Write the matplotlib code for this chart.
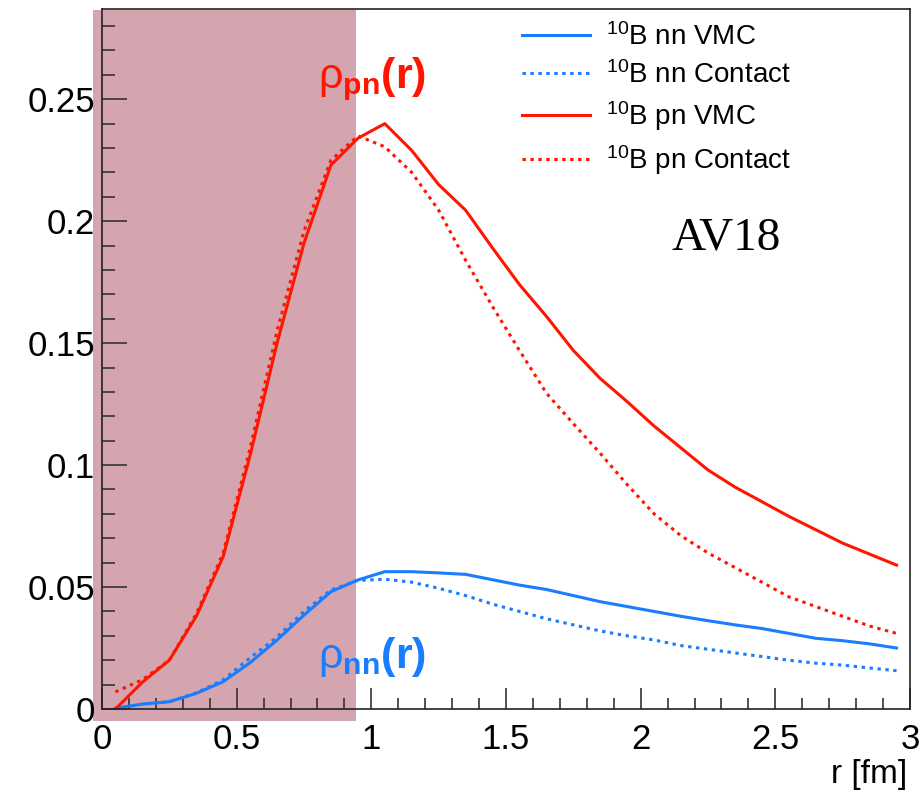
import matplotlib
matplotlib.use("Agg")
import matplotlib.pyplot as plt
from matplotlib.patches import Rectangle
from matplotlib.ticker import MultipleLocator

plt.rcParams['font.family'] = ['Liberation Sans', 'DejaVu Sans']
plt.rcParams['mathtext.fontset'] = 'custom'
plt.rcParams['mathtext.rm'] = 'Liberation Sans'
plt.rcParams['mathtext.bf'] = 'Liberation Sans:bold'
plt.rcParams['mathtext.it'] = 'Liberation Sans:italic'

# r bins (fm)
r = [0.05, 0.15, 0.25, 0.35, 0.45, 0.55, 0.65, 0.75, 0.85, 0.95,
     1.05, 1.15, 1.25, 1.35, 1.45, 1.55, 1.65, 1.75, 1.85, 1.95,
     2.05, 2.15, 2.25, 2.35, 2.45, 2.55, 2.65, 2.75, 2.85, 2.95]

pn_vmc = [0.0, 0.011, 0.020, 0.038, 0.0625, 0.104, 0.150, 0.191, 0.223, 0.234,
          0.240, 0.229, 0.215, 0.2045, 0.189, 0.174, 0.161, 0.147, 0.1355, 0.126,
          0.116, 0.107, 0.098, 0.091, 0.085, 0.079, 0.0735, 0.068, 0.0635, 0.059]
pn_contact = [0.007, 0.012, 0.020, 0.039, 0.064, 0.107, 0.155, 0.196, 0.225, 0.235,
              0.2305, 0.220, 0.2045, 0.184, 0.165, 0.147, 0.1295, 0.117, 0.1048, 0.092,
              0.080, 0.071, 0.064, 0.058, 0.052, 0.046, 0.042, 0.038, 0.034, 0.031]
nn_vmc = [0.0003, 0.002, 0.003, 0.0064, 0.0112, 0.019, 0.0283, 0.0385, 0.0481, 0.0529,
          0.0563, 0.0563, 0.0558, 0.0552, 0.053, 0.0508, 0.049, 0.0465, 0.044, 0.042,
          0.040, 0.038, 0.0362, 0.0345, 0.033, 0.031, 0.029, 0.028, 0.0267, 0.025]
nn_contact = [0.0003, 0.002, 0.003, 0.0066, 0.012, 0.021, 0.0295, 0.040, 0.0488, 0.0527,
              0.0532, 0.052, 0.0495, 0.0465, 0.043, 0.040, 0.037, 0.0345, 0.032, 0.030,
              0.0283, 0.026, 0.0245, 0.023, 0.0215, 0.020, 0.0188, 0.018, 0.0168, 0.0157]

labels = [r'$^{10}$B nn VMC', r'$^{10}$B nn Contact', r'$^{10}$B pn VMC', r'$^{10}$B pn Contact']

blue = '#1a7cff'
red = '#ff1500'
dots = (0, (1.1, 1.5))

fig = plt.figure(figsize=(9.23, 7.96), dpi=100)
ax = fig.add_axes([102/923, 1-709/796, 808/923, 700/796])

# shaded region
ax.add_patch(Rectangle((-0.033, -0.005), 0.977, 0.2915, facecolor='#d4a5ae',
                       edgecolor='none', clip_on=False, zorder=1))

ax.plot(r, nn_vmc, color=blue, lw=2.2, label=labels[0], zorder=3)
ax.plot(r, nn_contact, color=blue, lw=2.2, ls=dots, label=labels[1], zorder=3)
ax.plot(r, pn_vmc, color=red, lw=2.2, label=labels[2], zorder=3)
ax.plot(r, pn_contact, color=red, lw=2.2, ls=dots, label=labels[3], zorder=3)

ax.set_xlim(0, 3)
ax.set_ylim(0, 0.287)
ax.xaxis.set_minor_locator(MultipleLocator(0.1))
ax.yaxis.set_minor_locator(MultipleLocator(0.01))
ax.set_xticks([0, 0.5, 1, 1.5, 2, 2.5, 3])
ax.set_xticklabels(['0', '0.5', '1', '1.5', '2', '2.5', '3'])
ax.set_yticks([0, 0.05, 0.1, 0.15, 0.2, 0.25])
ax.set_yticklabels(['0', '0.05', '0.1', '0.15', '0.2', '0.25'])
ax.tick_params(axis='both', which='both', direction='in', color='#333333', labelsize=25)
ax.tick_params(axis='y', which='major', length=18, width=1.2, pad=5)
ax.tick_params(axis='y', which='minor', length=9.5, width=1.2)
ax.tick_params(axis='x', which='major', length=15, width=1.2, pad=10)
ax.tick_params(axis='x', which='minor', length=8, width=1.2)
for s in ax.spines.values():
    s.set_linewidth(1.2)
    s.set_color('#222222')
    s.set_zorder(4)

fig.text(907/923, 1-783/796, 'r [fm]', ha='right', va='baseline', fontsize=24)

ax.legend(loc='upper left', bbox_to_anchor=(522/923, 1-23/796), bbox_transform=fig.transFigure,
          frameon=False, fontsize=20, handlelength=2.45, handletextpad=0.58,
          labelspacing=0.37, borderpad=0, borderaxespad=0)

fig.text(318/923, 1-88/796, r'$\mathrm{\rho}_{\mathbf{pn}}\mathbf{(r)}$', color=red, fontsize=31,
         ha='left', va='baseline')
fig.text(318/923, 1-668/796, r'$\mathrm{\rho}_{\mathbf{nn}}\mathbf{(r)}$', color=blue, fontsize=31,
         ha='left', va='baseline')
fig.text(672/923, 1-250/796, 'AV18', family='Liberation Serif', fontsize=34,
         ha='left', va='baseline')

fig.savefig('out.png', dpi=100)
